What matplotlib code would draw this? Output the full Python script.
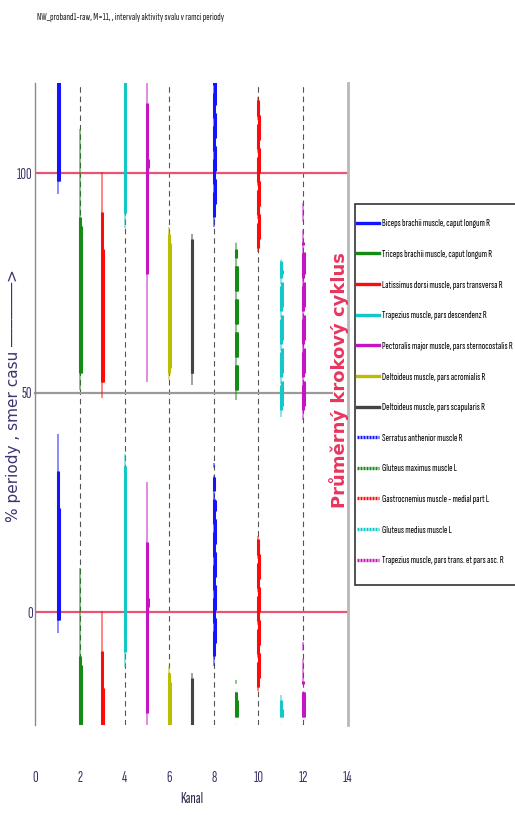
import matplotlib
matplotlib.use("Agg")
import matplotlib.pyplot as plt
from matplotlib.lines import Line2D
from matplotlib.patches import Rectangle

# ---------------- data ----------------
channels = [1, 2, 3, 4, 5, 6, 7, 8, 9, 10, 11, 12]
muscles = [
    "Biceps brachii muscle, caput longum R",
    "Triceps brachii muscle, caput longum R",
    "Latissimus dorsi muscle, pars transversa R",
    "Trapezius muscle, pars descendenz R",
    "Pectoralis major muscle, pars sternocostalis R",
    "Deltoideus muscle, pars acromialis R",
    "Deltoideus muscle, pars scapularis R",
    "Serratus anthenior muscle R",
    "Gluteus maximus muscle L",
    "Gastrocnemius muscle - medial part L",
    "Gluteus medius muscle L",
    "Trapezius muscle, pars trans. et pars asc. R",
]
colors = ["#1414ff", "#158a15", "#ff0a0a", "#14c8c8", "#c414c4", "#bcbc00",
          "#444444", "#1414ff", "#158a15", "#ff0a0a", "#14c8c8", "#c414c4"]
dashed = [False] * 7 + [True] * 5

# activity interval (% of period): full range, main interval, mean core
range_lo = [-4.8, 50.5, 48.7, -12.5, -47.5, 52.8, 51.7, -12.2, 48.3, -18.0, 44.5, 43.7]
range_hi = [40.5, 110.0, 100.3, 36.0, 29.5, 87.8, 86.2, 34.0, 84.4, 17.3, 81.0, 93.1]
main_lo = [-1.8, 54.4, 52.5, -9.0, -23.0, 54.4, 54.4, -10.0, 50.5, -17.0, 46.0, 46.0]
main_hi = [32.1, 90.0, 91.2, 33.3, 16.0, 86.0, 84.9, 30.8, 82.6, 16.6, 80.0, 84.3]
core_lo = [-1.8, 54.4, 52.5, -5.6, 1.2, 55.6, 54.4, -7.0, 50.5, -15.0, 47.0, 47.0]
core_hi = [23.8, 88.0, 82.6, 30.0, 3.2, 84.0, 83.3, 25.5, 80.0, 14.0, 78.0, 82.0]

period_copies = [-100, 0, 100]
x_ticks = [0, 2, 4, 6, 8, 10, 12, 14]
y_ticks = [0, 50, 100]
grid_x = [2, 4, 6, 8, 10, 12]

title = "NW_proband1-raw, M=11, , intervaly aktivity svalu v ramci periody"

# ---------------- figure ----------------
W, H = 515, 815
fig = plt.figure(figsize=(W / 100, H / 100), dpi=100)
narrow = ["Sofia Sans Extra Condensed", "Saira ExtraCondensed", "PT Sans Narrow", "DejaVu Sans"]

L, R, T, B = 35.3, 347.7, 82.7, 725.0
ax = fig.add_axes([L / W, 1 - B / H, (R - L) / W, (B - T) / H])
ax.set_xlim(0, 14)
ax.set_ylim(-25.74, 120.57)

for s in ["top", "bottom"]:
    ax.spines[s].set_visible(False)
ax.spines["left"].set_color("#8a8a8a")
ax.spines["left"].set_linewidth(1.0)
ax.spines["right"].set_color("#b8b8b8")
ax.spines["right"].set_linewidth(2.0)

# vertical dashed guides
for gx in grid_x:
    ax.axvline(gx, color="#555555", lw=0.8, ls=(0, (5, 3.5)), zorder=1)

# reference lines
ax.axhline(100, color="#ea5470", lw=1.6, zorder=2)
ax.axhline(0, color="#ea5470", lw=1.6, zorder=2)
ax.plot([0, 13.29], [50, 50], color="#9a9a9a", lw=1.6, zorder=2, clip_on=False)

# bars
lw_main = 2.2
for i, ch in enumerate(channels):
    c = colors[i]
    ls = (0, (8.2, 2.6)) if dashed[i] else "solid"
    for sh in period_copies:
        ax.plot([ch, ch], [range_lo[i] + sh, range_hi[i] + sh], color=c, alpha=0.5,
                lw=1.4, ls=(0, (12.9, 4.1)) if dashed[i] else "solid",
                solid_capstyle="butt", dash_capstyle="butt", zorder=3)
        ax.plot([ch, ch], [main_lo[i] + sh, main_hi[i] + sh], color=c,
                lw=lw_main, ls=ls, solid_capstyle="butt", dash_capstyle="butt", zorder=4)
        ax.plot([ch + 0.04, ch + 0.04], [core_lo[i] + sh, core_hi[i] + sh], color=c,
                lw=lw_main, ls=ls, solid_capstyle="butt", dash_capstyle="butt", zorder=4)

# ticks
tick_color = "#3b3468"
ax.set_xticks(x_ticks)
ax.set_xticklabels([str(t) for t in x_ticks])
ax.set_yticks(y_ticks)
ax.set_yticklabels([str(t) for t in y_ticks])
ax.tick_params(axis="x", length=0, pad=33, labelsize=11, labelcolor=tick_color)
ax.tick_params(axis="y", length=0, pad=2, labelsize=11, labelcolor=tick_color)
for lab in ax.get_xticklabels() + ax.get_yticklabels():
    lab.set_family(narrow)

ax.set_xlabel("Kanal", fontsize=11, color="#222244", family=narrow)
ax.xaxis.set_label_coords(0.5, -(792 - B) / (B - T))

# y label and right label
fig.text(14 / W, 1 - 396 / H, "% periody , smer casu \u2500\u2500\u2500\u2500\u2500\u2500\u2500>",
         rotation=90, ha="center", va="center", fontsize=11, color="#3c3370",
         family=["DejaVu Sans"])
fig.text(339 / W, 1 - 380 / H, "Průměrný krokový cyklus", rotation=90,
         ha="center", va="center", fontsize=13, fontweight="bold", color="#e8365e",
         family=["DejaVu Sans"])

# title
fig.text(37 / W, 1 - 17 / H, title, ha="left", va="center", fontsize=7.5,
         color="#222222", family=narrow)

# legend
fig.patches.append(Rectangle((355 / W, 1 - 585 / H), (525 - 355) / W, (585 - 204) / H,
                             transform=fig.transFigure, facecolor="white",
                             edgecolor="#333333", lw=1.2, zorder=0))
handles = [Line2D([0], [0], color=colors[i], lw=2.4,
                  ls=(0, (0.6, 0.3)) if dashed[i] else "solid")
           for i in range(len(channels))]
fs = 7.5
leg = fig.legend(handles, muscles, loc="upper left",
                 bbox_to_anchor=(357 / W, 1 - 219 / H), bbox_transform=fig.transFigure,
                 frameon=False, borderpad=0, borderaxespad=0, fontsize=fs,
                 handlelength=2.13, handletextpad=0.23, labelspacing=2.05,
                 prop={"family": narrow, "size": fs})

fig.savefig("out.png", dpi=100)
